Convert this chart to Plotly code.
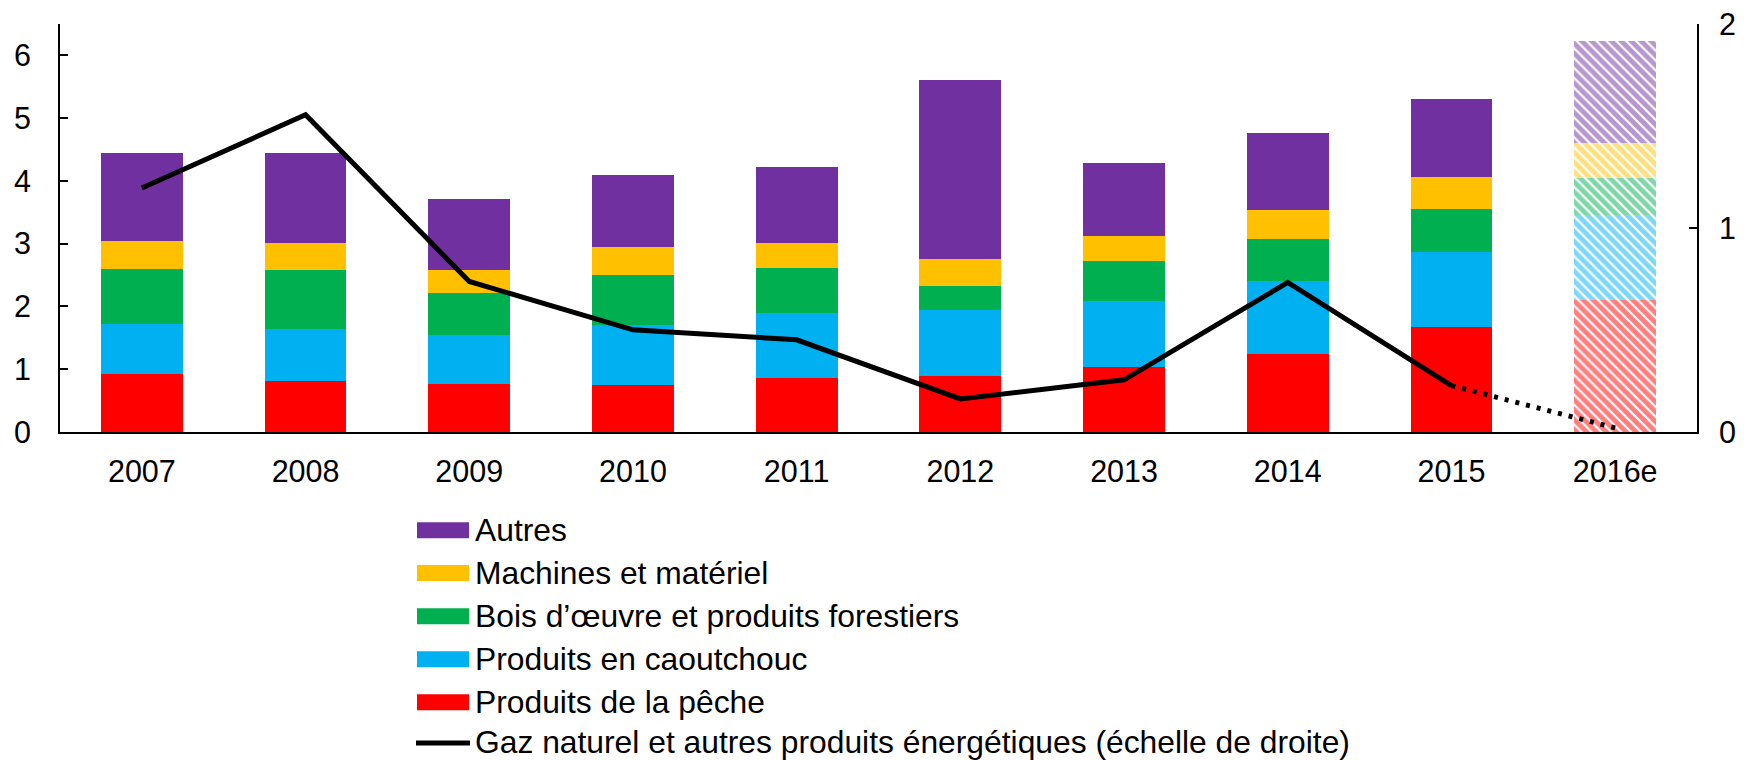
import plotly.graph_objects as go

categories = ["2007", "2008", "2009", "2010", "2011", "2012", "2013", "2014", "2015", "2016e"]

peche = [0.93, 0.82, 0.77, 0.75, 0.86, 0.90, 1.03, 1.25, 1.665, 2.11]
caoutchouc = [0.79, 0.825, 0.77, 0.955, 1.035, 1.046, 1.057, 1.155, 1.195, 1.35]
bois = [0.88, 0.935, 0.67, 0.795, 0.715, 0.382, 0.63, 0.67, 0.685, 0.59]
machines = [0.44, 0.43, 0.37, 0.44, 0.40, 0.43, 0.40, 0.465, 0.51, 0.55]
autres = [1.41, 1.43, 1.135, 1.15, 1.205, 2.844, 1.173, 1.22, 1.25, 1.63]

gaz_solid = [1.196, 1.555, 0.738, 0.501, 0.452, 0.162, 0.256, 0.733, 0.227]
gaz_dotted_x = ["2015", "2016e"]
gaz_dotted = [0.227, 0.02]

series = [
    ("Produits de la pêche", peche, "#FF0000"),
    ("Produits en caoutchouc", caoutchouc, "#00B0F0"),
    ("Bois d\u2019œuvre et produits forestiers", bois, "#00B050"),
    ("Machines et matériel", machines, "#FFC000"),
    ("Autres", autres, "#7030A0"),
]

FONT = "Arial, Liberation Sans, sans-serif"
OFF = 8  # default page body margin
W, H = 1744 - OFF, 760 - OFF
L, R, T, B = 52, 47, 16, 328
PW = W - L - R
PH = H - T - B
TICK_FS = 30.5
LEG_FS = 31.8

fig = go.Figure()
for name, vals, col in series:
    shapes_arr = ["" if c != "2016e" else "\\" for c in categories]
    fig.add_trace(go.Bar(
        x=categories, y=vals, name=name, showlegend=False,
        marker=dict(color=col, line=dict(width=0),
                    pattern=dict(shape=shapes_arr, fgcolor=col, bgcolor="white",
                                 size=7, solidity=0.7)),
    ))

fig.add_trace(go.Scatter(
    x=categories[:len(gaz_solid)], y=gaz_solid, yaxis="y2", mode="lines",
    line=dict(color="black", width=5), showlegend=False,
))
fig.add_trace(go.Scatter(
    x=gaz_dotted_x, y=gaz_dotted, yaxis="y2", mode="lines",
    line=dict(color="black", width=5, dash="4px,7px"), showlegend=False,
))

# manual legend (positions in screen pixels -> paper coords)
def px2x(px):
    return (px - OFF - L) / PW

def py2y(py):
    return (T + PH - (py - OFF)) / PH

legend_items = [
    ("Autres", "#7030A0", "bar"),
    ("Machines et matériel", "#FFC000", "bar"),
    ("Bois d\u2019œuvre et produits forestiers", "#00B050", "bar"),
    ("Produits en caoutchouc", "#00B0F0", "bar"),
    ("Produits de la pêche", "#FF0000", "bar"),
    ("Gaz naturel et autres produits énergétiques (échelle de droite)", "black", "line"),
]
row_y = [530.3, 573, 616.3, 659.3, 702.2, 742]
shapes = []
annotations = []
for (label, col, kind), yy in zip(legend_items, row_y):
    if kind == "bar":
        shapes.append(dict(type="rect", xref="paper", yref="paper",
                           x0=px2x(417), x1=px2x(469), y0=py2y(yy + 8), y1=py2y(yy - 8),
                           fillcolor=col, line=dict(width=0)))
    else:
        shapes.append(dict(type="line", xref="paper", yref="paper",
                           x0=px2x(416), x1=px2x(470), y0=py2y(yy + 1), y1=py2y(yy + 1),
                           line=dict(color=col, width=5)))
    annotations.append(dict(text=label, xref="paper", yref="paper", x=px2x(473), y=py2y(yy),
                            xanchor="left", yanchor="middle", showarrow=False,
                            font=dict(size=LEG_FS, color="black", family=FONT)))

fig.update_layout(
    width=W, height=H,
    margin=dict(l=L, r=R, t=T, b=B, pad=0, autoexpand=False),
    paper_bgcolor="white", plot_bgcolor="white",
    barmode="stack", bargap=0.5,
    showlegend=False,
    font=dict(family=FONT, size=TICK_FS, color="black"),
    xaxis=dict(type="category", showline=True, linecolor="black", linewidth=2,
               ticks="", showgrid=False, tickfont=dict(size=TICK_FS), zeroline=False,
               ticklabelstandoff=11, automargin=False),
    yaxis=dict(range=[0, 6.5], tickvals=[0, 1, 2, 3, 4, 5, 6, 6.5],
               ticktext=["0", "1", "2", "3", "4", "5", "6", ""],
               ticks="inside", ticklen=8, tickwidth=2, tickcolor="black",
               showline=True, linecolor="black", linewidth=2, showgrid=False,
               zeroline=False, ticklabelstandoff=21, tickfont=dict(size=TICK_FS),
               automargin=False, ticklabeloverflow="allow"),
    yaxis2=dict(range=[0, 2], tickvals=[0, 1, 2], overlaying="y", side="right",
                ticks="inside", ticklen=8, tickwidth=2, tickcolor="black",
                showline=True, linecolor="black", linewidth=2, showgrid=False,
                zeroline=False, ticklabelstandoff=14, tickfont=dict(size=TICK_FS),
                automargin=False, ticklabeloverflow="allow"),
    shapes=shapes,
    annotations=annotations,
)

fig.write_html("out.html")
